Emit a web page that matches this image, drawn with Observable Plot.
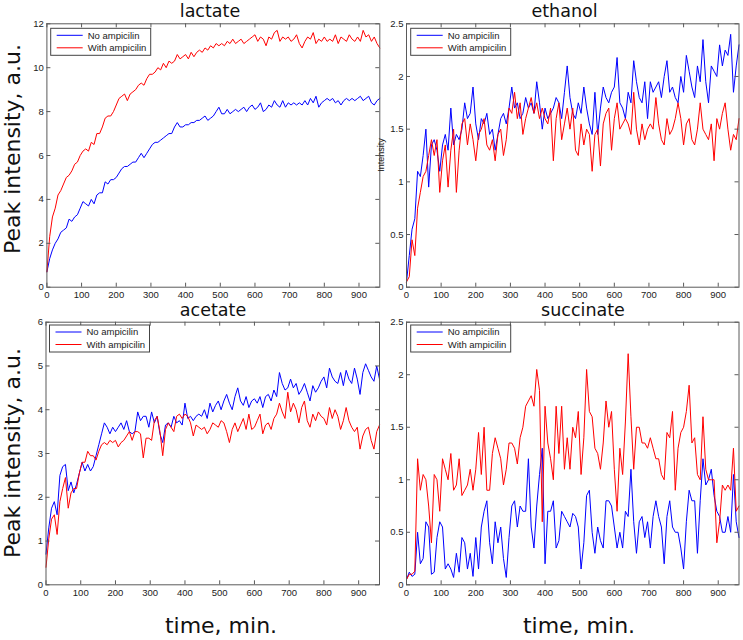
<!DOCTYPE html>
<html><head><meta charset="utf-8">
<script src="https://cdn.jsdelivr.net/npm/d3@7"></script>
<script src="https://cdn.jsdelivr.net/npm/@observablehq/plot@0.6"></script>
<style>
body{margin:0;background:#fff;}
#root{position:relative;width:743px;height:640px;overflow:hidden;}
#root svg{position:absolute;overflow:visible;}
</style></head>
<body><div id="root"></div>
<script>
// sampling grid (minutes)
const times = d3.range(0, 961, 8);
const xTicks = [0,100,200,300,400,500,600,700,800,900];
const seriesNames = ["No ampicilin", "With ampicilin"];
const seriesColors = ["#0000ff", "#ff0000"];

const lactateTicks = [0,2,4,6,8,10,12];
const ethanolTicks = [0,0.5,1,1.5,2,2.5];
const acetateTicks = [0,1,2,3,4,5,6];
const succinateTicks = [0,0.5,1,1.5,2,2.5];

const lactateNo = [0.7,1.3,1.7,2.0,2.2,2.5,2.6,2.7,3.1,3.0,
3.2,3.3,3.6,3.9,3.8,3.7,4.0,3.8,4.2,4.3,
4.3,4.8,4.7,4.9,4.9,5.0,5.2,5.4,5.5,5.5,
5.6,5.7,5.7,5.9,6.1,5.9,6.1,6.3,6.5,6.6,
6.6,6.7,6.8,6.9,7.0,7.0,7.3,7.5,7.3,7.3,
7.4,7.4,7.5,7.5,7.6,7.6,7.7,7.8,7.6,7.7,
7.8,8.0,8.2,7.9,7.9,8.1,7.9,8.0,8.1,8.0,
8.1,8.2,8.0,8.2,8.3,8.1,8.2,8.4,8.0,8.1,
8.3,8.2,8.5,8.3,8.2,8.5,8.2,8.4,8.3,8.4,
8.3,8.4,8.3,8.5,8.3,8.6,8.4,8.7,8.2,8.4,
8.5,8.6,8.5,8.6,8.4,8.5,8.3,8.5,8.6,8.5,
8.6,8.5,8.6,8.7,8.5,8.6,8.7,8.4,8.3,8.5,
8.6];
const lactateWith = [0.7,2.3,3.2,3.6,4.2,4.4,4.7,5.0,5.1,5.3,
5.6,5.7,6.0,6.2,6.3,6.2,6.6,6.5,7.0,7.0,
7.3,7.7,7.8,7.8,8.0,8.3,8.6,8.7,8.8,8.5,
8.8,8.9,9.0,9.2,9.3,9.2,9.5,9.7,9.7,9.8,
10.0,9.9,10.2,10.0,10.3,10.2,10.3,10.6,10.4,10.5,
10.6,10.4,10.7,10.5,10.7,10.8,10.7,10.9,10.8,11.0,
10.9,11.1,11.0,11.1,11.0,11.2,11.1,11.3,11.1,11.2,
11.3,11.1,11.2,11.3,11.4,11.5,11.2,11.4,11.3,11.0,
11.4,11.3,11.6,11.7,11.2,11.4,11.3,11.4,11.2,11.3,
11.5,11.1,10.9,11.2,11.4,11.3,11.6,11.1,11.3,11.2,
11.4,11.2,11.3,11.2,11.5,11.1,11.4,11.3,11.2,11.5,
11.3,11.2,11.4,11.2,11.7,11.4,11.5,11.2,11.4,11.1,
10.9];

const ethanolNo = [0.05,0.3,0.55,0.65,1.1,1.05,1.25,1.5,0.95,1.35,
1.4,1.3,1.1,1.35,1.45,1.3,1.7,1.35,1.45,1.4,
1.5,1.75,1.6,1.65,1.9,1.55,1.4,1.6,1.55,1.65,
1.45,1.5,1.3,1.45,1.6,1.65,1.55,1.7,1.9,1.7,
1.75,1.6,1.65,1.8,1.7,1.75,1.65,1.95,1.75,1.5,
1.7,1.6,1.65,1.7,1.8,1.75,1.6,1.85,2.1,1.8,
1.65,1.6,1.75,1.65,1.9,1.7,1.55,1.45,1.85,1.45,
1.7,1.9,1.8,1.75,1.85,1.9,2.18,1.75,1.7,1.6,
1.85,1.75,2.15,1.95,1.8,1.75,1.95,1.6,1.95,1.85,
1.9,1.95,1.8,2.0,2.15,1.85,1.9,1.8,1.75,2.0,
1.85,2.2,2.05,1.9,1.8,2.1,1.95,2.35,1.95,1.75,
2.1,2.05,2.0,2.3,2.1,2.25,2.2,2.4,1.85,2.1,
2.3];
const ethanolWith = [0.05,0.1,0.45,0.3,0.75,0.9,1.05,1.1,1.25,1.4,
1.25,1.4,0.9,1.2,1.35,0.95,1.3,1.5,0.9,1.3,
1.55,1.6,1.35,1.55,1.4,1.2,1.45,1.5,1.6,1.35,
1.3,1.4,1.2,1.45,1.5,1.25,1.4,1.7,1.65,1.85,
1.6,1.75,1.45,1.6,1.7,1.8,1.65,1.75,1.6,1.7,
1.6,1.55,1.7,1.2,1.6,1.75,1.4,1.55,1.7,1.5,
1.7,1.3,1.25,1.55,1.35,1.5,1.45,1.1,1.45,1.5,
1.15,1.55,1.65,1.7,1.3,1.6,1.75,1.5,1.55,1.6,
1.55,1.45,1.85,1.5,1.35,1.55,1.4,1.5,1.55,1.5,
1.8,1.55,1.4,1.35,1.6,1.45,1.5,1.6,1.75,1.6,
1.35,1.55,1.6,1.4,1.35,1.5,1.75,1.5,1.45,1.4,
1.55,1.2,1.6,1.5,1.65,1.75,1.5,1.3,1.45,1.4,
1.6];

const acetateNo = [0.7,1.3,1.75,1.9,1.6,2.5,2.7,2.75,2.15,2.35,
2.1,2.3,2.55,2.8,2.6,2.75,2.6,2.7,2.95,3.2,
3.45,3.7,3.6,3.45,3.6,3.5,3.6,3.7,3.55,3.75,
3.5,3.45,3.5,3.95,3.75,3.85,3.85,3.6,3.95,3.7,
3.85,3.45,3.25,3.65,3.7,3.6,3.85,3.7,3.75,3.65,
4.15,3.8,3.85,3.75,3.85,3.9,3.85,4.0,3.8,4.15,
3.95,4.1,4.2,4.0,4.2,4.35,4.15,4.0,4.3,4.5,
4.2,4.1,4.3,4.05,4.2,4.25,4.15,4.3,4.05,4.3,
4.35,4.2,4.45,4.3,4.85,4.6,4.45,4.5,4.7,4.5,
4.6,4.35,4.45,4.6,4.4,4.2,4.55,4.4,4.5,4.65,
4.75,4.5,4.95,4.75,4.65,4.6,4.85,4.55,4.9,4.7,
4.6,4.95,4.7,4.35,4.85,5.05,4.9,4.75,4.65,5.0,
4.7];
const acetateWith = [0.4,1.05,1.5,1.6,1.15,1.9,2.2,2.45,1.75,2.1,
2.2,2.2,2.55,2.8,2.8,3.05,2.95,2.95,2.85,3.05,
3.2,3.25,3.2,3.3,3.25,3.3,3.15,3.25,3.3,3.4,
3.5,3.3,3.5,3.5,3.45,2.9,3.35,3.35,3.3,3.75,
3.85,3.5,2.95,3.55,3.7,3.6,3.5,3.85,3.9,3.8,
3.9,3.85,3.7,3.4,3.65,3.6,3.55,3.6,3.45,3.55,
3.7,3.65,3.6,3.75,3.7,3.5,3.25,3.55,3.7,3.5,
3.65,3.8,3.55,3.9,3.55,3.6,3.75,3.9,3.45,3.65,
3.7,3.55,3.8,3.9,4.15,3.95,3.8,4.4,3.95,4.15,
4.0,3.7,4.05,4.2,3.75,3.6,3.9,3.75,3.95,3.85,
3.8,3.65,4.05,3.8,4.0,3.85,3.55,3.75,4.05,3.75,
3.6,3.5,3.6,3.1,3.4,3.55,3.6,3.3,3.1,3.5,
3.65];

const succinateNo = [0.05,0.12,0.08,0.1,0.5,0.2,0.25,0.6,0.55,0.1,
0.12,0.45,0.6,0.55,0.15,0.2,0.15,0.07,0.3,0.12,
0.45,0.4,0.15,0.3,0.08,0.45,0.15,0.55,0.7,0.8,
0.4,0.2,0.6,0.4,0.55,0.25,0.07,0.45,0.75,0.8,
0.55,0.75,0.7,0.7,1.2,0.55,0.35,0.75,1.05,1.3,
0.2,0.7,0.7,0.8,0.35,0.42,0.7,0.65,0.6,0.55,
0.68,0.65,0.55,0.15,0.4,0.85,0.9,0.5,0.3,0.55,
0.42,0.35,0.8,0.8,0.75,0.55,0.35,0.5,0.35,0.7,
0.65,1.1,0.6,0.3,0.6,0.65,0.45,0.6,0.35,0.65,
0.8,0.65,0.55,0.2,0.65,0.8,0.55,0.5,0.5,0.35,
0.15,0.6,0.9,0.8,0.8,0.3,0.8,1.2,0.95,1.0,
1.1,0.85,0.7,0.65,0.5,0.5,0.65,0.5,1.05,0.6,
0.45];
const succinateWith = [0.05,0.1,0.1,0.13,1.2,0.9,1.05,1.0,0.75,0.4,
1.05,1.0,0.7,1.2,1.1,1.0,1.25,0.9,0.95,1.2,
0.85,0.9,0.95,1.1,0.9,1.1,1.45,1.05,1.5,0.9,
0.9,1.25,1.4,1.3,1.2,0.95,1.1,1.35,1.35,1.3,
1.15,1.4,1.5,1.7,1.75,1.8,1.7,2.05,1.85,0.6,
1.7,1.35,1.2,1.0,1.7,1.25,1.7,1.1,1.4,1.1,
1.5,1.4,1.65,1.05,1.4,2.05,1.65,1.6,1.3,1.25,
1.1,1.35,1.75,1.5,1.65,1.1,0.7,1.3,1.05,1.55,
2.2,1.6,1.1,1.5,1.5,1.35,1.35,1.3,1.4,1.3,
1.2,1.2,1.05,1.0,1.45,1.4,1.65,0.9,1.3,1.45,
1.5,1.65,1.9,1.35,1.4,1.05,1.0,1.6,1.1,1.0,
1.0,1.0,0.4,0.6,0.95,0.9,0.95,0.9,1.3,0.7,
0.75];

const panels = [
  {title:"lactate", left:0, top:0, w:385, h:300, ml:46.4, mr:5.7, mt:23.3, mb:13.3, ymax:12, yticks:lactateTicks, data:[lactateNo, lactateWith], tx:210, ty:17, leg:[50.7,28.3]},
  {title:"ethanol", left:370, top:0, w:373, h:300, ml:36, mr:4.5, mt:23.3, mb:13.3, ymax:2.5, yticks:ethanolTicks, data:[ethanolNo, ethanolWith], tx:564.5, ty:17, leg:[410.7,28.3]},
  {title:"acetate", left:0, top:300, w:385, h:300, ml:45.5, mr:6, mt:21.7, mb:15.7, ymax:6, yticks:acetateTicks, data:[acetateNo, acetateWith], tx:213, ty:315.5, leg:[49.5,325]},
  {title:"succinate", left:370, top:300, w:373, h:300, ml:36, mr:4.5, mt:21.7, mb:15.7, ymax:2.5, yticks:succinateTicks, data:[succinateNo, succinateWith], tx:583, ty:315.5, leg:[410.7,325]}
];

const root = document.getElementById("root");
const axisColor = "#5a5a5a";

for (const p of panels) {
  const pw = p.w - p.ml - p.mr, ph = p.h - p.mt - p.mb;
  const lines = p.data.map((vals, k) =>
    Plot.lineY(vals.map((v, i) => ({t: times[i], v})), {x: "t", y: "v", stroke: seriesColors[k], strokeWidth: 1})
  );
  const chart = Plot.plot({
    width: p.w, height: p.h,
    marginLeft: p.ml, marginRight: p.mr, marginTop: p.mt, marginBottom: p.mb,
    style: {fontFamily: "'Liberation Sans', Arial, sans-serif", fontSize: "9.5px", color: "#222", background: "transparent", overflow: "visible"},
    x: {domain: [0, 960], label: null},
    y: {domain: [0, p.ymax], label: null},
    marks: [
      ...lines,
      Plot.tickX(xTicks, {x: d => d, insetTop: ph - 4, stroke: axisColor}),
      Plot.tickX(xTicks, {x: d => d, insetBottom: ph - 4, stroke: axisColor}),
      Plot.tickY(p.yticks, {y: d => d, insetRight: pw - 4, stroke: axisColor}),
      Plot.tickY(p.yticks, {y: d => d, insetLeft: pw - 4, stroke: axisColor}),
      Plot.frame({stroke: axisColor}),
      Plot.axisX({ticks: xTicks, tickSize: 0, tickPadding: 4, tickFormat: d => String(d), label: null}),
      Plot.axisY({ticks: p.yticks, tickSize: 0, tickPadding: 3, tickFormat: d => String(d), label: null})
    ]
  });
  chart.style.left = p.left + "px";
  chart.style.top = p.top + "px";
  root.appendChild(chart);
}

// overlay text: titles, axis labels, legends
const svg = d3.select(root).append("svg")
  .attr("width", 743).attr("height", 640)
  .style("left", "0px").style("top", "0px").style("pointer-events", "none");

for (const p of panels) {
  svg.append("text").attr("x", p.tx).attr("y", p.ty)
    .attr("text-anchor", "middle").attr("font-family", "DejaVu Sans").attr("font-size", 17.5)
    .attr("fill", "#111").text(p.title);
  const [lx, ly] = p.leg;
  const g = svg.append("g").attr("transform", `translate(${lx},${ly})`);
  g.append("rect").attr("width", 100).attr("height", 27).attr("fill", "#fff").attr("stroke", "#444").attr("stroke-width", 1);
  seriesNames.forEach((name, k) => {
    const yy = 7 + k * 12.5;
    g.append("line").attr("x1", 6).attr("x2", 32).attr("y1", yy).attr("y2", yy).attr("stroke", seriesColors[k]).attr("stroke-width", 1);
    g.append("text").attr("x", 37).attr("y", yy + 3.3).attr("font-family", "'Liberation Sans', Arial, sans-serif")
      .attr("font-size", 9.5).attr("fill", "#222").text(name);
  });
}

const yLabel = "Peak intensity, a.u.";
[149, 453].forEach(cy => {
  svg.append("text").attr("transform", `translate(20,${cy}) rotate(-90)`)
    .attr("text-anchor", "middle").attr("font-family", "DejaVu Sans").attr("font-size", 22)
    .attr("fill", "#111").text(yLabel);
});
const xLabel = "time, min.";
[221, 579].forEach(cx => {
  svg.append("text").attr("x", cx).attr("y", 633)
    .attr("text-anchor", "middle").attr("font-family", "DejaVu Sans").attr("font-size", 22)
    .attr("fill", "#111").text(xLabel);
});
svg.append("text").attr("transform", "translate(384,155) rotate(-90)")
  .attr("text-anchor", "middle").attr("font-family", "'Liberation Sans', Arial, sans-serif").attr("font-size", 9)
  .attr("fill", "#222").text("Intensity");
</script>
</body></html>
